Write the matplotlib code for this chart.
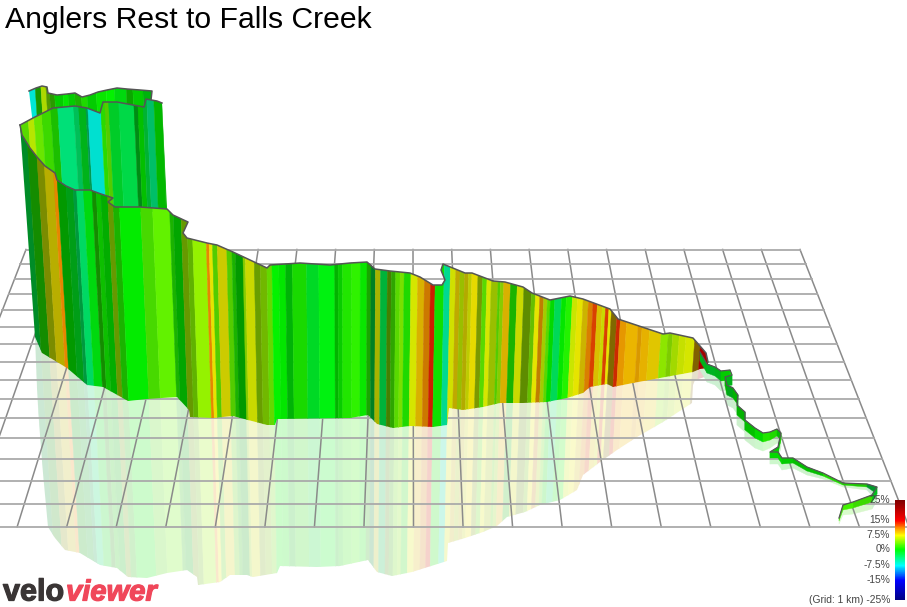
#
# Imports
#
import numpy as np
import matplotlib
matplotlib.use("Agg")
import matplotlib.pyplot as plt
import matplotlib.patheffects as pe
from matplotlib.collections import PolyCollection
from matplotlib.colors import LinearSegmentedColormap, Normalize
from matplotlib.patches import Polygon

#
# Data (in image pixels)
#
title = "Anglers Rest to Falls Creek"

# Grid
grid_rows = [249.5, 264, 279, 294, 310, 327, 344, 362, 380, 399, 418, 438, 459, 481, 503.5, 527]
grid_far_x = [800 - 38.7 * k for k in range(20, -1, -1)]
grid_near_x = [909 - 49.55 * k for k in range(20, -1, -1)]

# Front wall
front_top_x = [20, 22, 30, 37, 45, 55, 57, 66, 75, 90, 101, 113, 108, 115, 140, 167, 173, 188, 183, 187, 207, 217, 233, 250, 267,
               270, 300, 330, 350, 367, 375, 390, 410, 420, 433, 442, 445, 441, 443, 465, 472, 493, 505, 523, 532,
               550, 570, 583, 610, 618, 663, 670, 693, 700, 706, 708]
front_top_y = [125, 135, 148, 157, 166, 173, 180, 186, 190, 190, 194, 198, 202, 207, 207, 209, 215, 222, 233, 238, 243, 245, 252, 260, 268,
               265, 263, 265, 263, 262, 269, 271, 273, 277, 285, 285, 280, 270, 264, 273, 273, 281, 282, 287, 293,
               300, 296, 299, 309, 319, 334, 333, 338, 346, 353, 362]
front_bot_x = [35, 42, 67, 87, 103, 128, 147, 177, 189, 190, 213, 233, 267, 275, 277, 350, 368, 377, 393, 410, 433,
               447, 449, 463, 483, 500, 523, 547, 567, 583, 590, 607, 613, 633, 660, 693, 700, 708]
front_bot_y = [337, 353, 368, 385, 387, 401, 399, 397, 410, 417, 418, 416, 425, 425, 419, 418, 415, 424, 428, 426, 427,
               425, 408, 410, 407, 403, 403, 402, 398, 393, 387, 384, 387, 383, 378, 372, 369, 368]
mirror_bot_x = [35, 38, 43, 48, 55, 65, 80, 100, 117, 128, 147, 167, 187, 197, 198, 220, 230, 247, 253, 277, 280, 317,
                340, 368, 377, 392, 412, 447, 448, 465, 483, 497, 507, 525, 540, 560, 577, 583, 600, 617, 637, 663,
                692, 693, 695, 708]
mirror_bot_y = [337, 413, 473, 527, 538, 550, 553, 565, 568, 577, 578, 573, 570, 577, 585, 582, 575, 575, 577, 573, 566, 567,
                566, 560, 572, 576, 572, 561, 543, 538, 532, 526, 517, 512, 505, 500, 490, 475, 462, 450, 437, 422,
                403, 385, 380, 376]

# Front wall strips, left part
left_edges = [31.7, 38.3, 46.7, 53.3, 61.7, 65, 73.3, 80, 83.3, 90, 98.3, 102.3, 106.7, 113.3, 118.3, 124.3, 145,
              156.7, 173.3, 176.7, 184.3, 190, 195, 208.3, 211, 214.3, 219, 228.3, 233.3, 236.7, 245]
left_grade = [-2, 1, 6.5, 8, 11, 0, -1, -3, -3.5, -0.5, 1, 0.5, 0, 5, 1, 0, 2.5, 3, 1, 0, 5, 4, 4.5, 11, 7.5, 3, 7.5, 3, 1, 0]
left_shade = [.55, .55, .55, .72, .9, .6, .62, .6, .85, .85, .55, .75, .68, .6, .7, .92, .85, .95, .7, .65, .6, .7, .95, .9,
              .9, .8, .8, .8, .7, .6]

# Front wall strips, middle part
centre_edges = [245, 247.3, 256, 261.7, 268.3, 273.3, 280, 286.7, 293.3, 307.3, 319.3, 335, 338.3, 342.7, 351.7, 360, 366.7,
                370.7, 375, 380, 386.7, 390.7, 395, 399.3, 403.3, 410, 416.7, 423.3, 429.3, 434, 442.7, 448.7, 454, 458.3,
                462.7, 466.7, 470]
centre_grade = [5, 7, 5, 4.5, 3.5, 0, 0, -0.3, 0.8, -1.2, -0.5, 0, 0.3, 1, 1.5, 0.3, 1, -2, 7, -2.5, 4, 2, 3, 4, 1, 7, 9, 11,
                14, 0.5, -5, 7, 8.5, 6, 8, 7]
centre_shade = [.8, .85, .62, .72, .85, .95, .9, .7, .85, .85, .95, .7, .8, .9, .95, .9, .65, .5, .7, .7, .5, .65, .85, .88,
                .85, .9, .85, .8, .8, .88, .85, .88, .75, .75, .7, .8]

# Front wall strips, right part
right_edges = [470, 476, 480.7, 485, 489.3, 496, 498.3, 501.7, 508.3, 515, 521.7, 529.3, 533.3, 537.7, 541.7, 545.3, 548.3,
               552.7, 559.3, 564, 570, 575, 580.7, 586, 590.7, 595, 600, 603.3, 606.7, 609.3, 615, 618.7, 625, 636.7, 640.7,
               648.3, 660, 667.3, 671.7, 678.3, 685, 694, 700, 710]
right_grade = [8, 6, 3, 7, 6, 3, 5, 9, 1, 7, 5, 4, 7.5, 10.5, 6, 3, 0, -3, 0, 1, 6.5, 7.5, 8.5, 11, 13, 8.5, 7, 13, 7.5, 9,
               13.5, 10.5, 9.5, 10, 9.5, 8.5, 4.5, 4.5, 5.5, 6.5, 7, 9.5, 15]
right_shade = [.9, .6, .85, .9, .75, .8, .8, .85, .7, .85, .55, .75, .9, .75, .8, .85, .85, .85, .9, .95, .9, .9, .8, .85, .85,
               .85, .85, .85, .9, .5, .8, .9, .92, .85, .9, .88, .9, .8, .85, .88, .9, .5, .65]

# Middle wall
mid_top_x = [20, 33, 53, 75, 87, 100, 103, 117, 133, 144, 146, 157, 162, 167, 167, 30]
mid_top_y = [125, 118, 108, 106, 108, 113, 102, 102, 105, 107, 99, 101, 103, 209, 212, 212]
mid_edges = [20, 29, 35, 43, 52, 59, 75, 80, 87, 89, 102, 106, 110, 120, 135, 139, 144, 148, 155, 163, 168]
mid_grade = [3, 6, 3.5, 2, 1, -4, -3.5, -1, -4, -7, 1.5, 3, -1.5, -2.5, -1, 0, -2, -4, 0, 0]
mid_shade = [.85, .9, .9, .85, .75, .88, .75, .7, .6, .88, .85, .8, .8, .85, .55, .75, .7, .75, .72, .7]

# Back wall
back_top_x = [29, 36, 42, 47, 48, 57, 67, 75, 82, 90, 98, 107, 117, 127, 140, 152, 151, 146, 146, 33]
back_top_y = [91, 88, 86, 87, 93, 95, 94, 93, 97, 95, 92, 90, 88, 89, 90, 91, 100, 108, 125, 125]
back_edges = [29, 36, 41.7, 46.7, 50, 55, 63.3, 68.3, 75, 81.7, 87.3, 96.7, 106.7, 115, 126.7, 133.3, 143.3, 153.3]
back_grade = [-7, 1, 6, 4, 2, 0, 0, 0, 1, 1, 0, 0.3, 0, -0.5, 0.5, 0, -0.5]
back_shade = [.9, .6, .85, .6, .6, .8, .9, .8, .7, .85, .8, .9, .95, .85, .65, .8, .7]

# Low end of the route
tail_x = [700, 707, 715, 721, 730, 732, 725, 727, 733, 738, 737, 745, 745, 755, 763, 770, 777, 781, 780, 778, 770, 778, 782,
          793, 807, 823, 843, 867, 877, 872, 853, 843, 839]
tail_y = [352, 364, 367, 371, 370, 375, 377, 385, 388, 395, 405, 412, 420, 428, 433, 432, 429, 433, 437, 447, 452, 452, 458,
          458, 467, 473, 483, 484, 487, 495, 502, 505, 518]
tail_h = [9, 9, 9, 10, 10, 10, 9, 10, 10, 10, 10, 10, 10, 10, 9, 8, 7, 7, 7, 7, 6, 6, 6, 5, 4, 3, 2, 3, 7, 7, 6, 5, 3]
tail_grade = [-1, -1.5, -1, 0, 0, -1, 0, -1, 0, -1, 0, -1, 0, 0, 1, 1, 0, 1, 0, 0, 0, 0, 0, 0, 0, 1, 1, -2, -1, 2, 2, 2]
tail_shade = [.7, .7, .7, .8, .95, .7, .7, .65, .7, .65, .7, .65, .75, .85, .9, .85, .75, .85, .75, .8, .85, .85, .8, .75, .75, .85, .8, .6, .75, .85, .95, .9]

# Colour key
key_labels = ["25%", "15%", "7.5%", "0%", "-7.5%", "-15%", "(Grid: 1 km) -25%"]
key_values = [25, 15, 7.5, 0, -7.5, -15, -25]
key_y = [500, 520, 535, 549, 565, 580, 600]

#
# Gradient Colours
#
grade_cmap = LinearSegmentedColormap.from_list("grade", [
    (0.0, "#000080"), (0.2, "#0000ff"), (0.35, "#00ffff"), (0.5, "#00ff00"),
    (0.65, "#ffff00"), (0.72, "#ff9900"), (0.8, "#ff0000"), (1.0, "#800000")])
grade_norm = Normalize(-25, 25)

def strip_colours(grade, shade):
    rgb = grade_cmap(grade_norm(np.array(grade)))[:, :3]
    return rgb * np.array(shade)[:, None]

#
# Strips lean towards the middle of the picture, like the grid
#
def lean(x, y, yref):
    return x + (350 - x) * 0.00021 * (y - yref)

def strip_polys(edges, yref):
    y0, y1 = 60, 610
    polys = []
    for a, b in zip(edges[:-1], edges[1:]):
        polys.append([(lean(a, y0, yref), y0), (lean(b, y0, yref), y0),
                      (lean(b, y1, yref), y1), (lean(a, y1, yref), y1)])
    return polys

def draw_strips(ax, edges, yref, colours, clip_xy, zorder):
    clip = Polygon(clip_xy, closed=True, transform=ax.transData)
    coll = PolyCollection(strip_polys(edges, yref), facecolors=colours, edgecolors=colours,
                          linewidths=0.3, zorder=zorder)
    ax.add_collection(coll)
    coll.set_clip_path(clip)

#
# Create Plot
#
plt.rcParams["font.family"] = ["Liberation Sans", "DejaVu Sans"]
fig = plt.figure(figsize=(9.07, 6.07), dpi=100)
ax = fig.add_axes([0, 0, 1, 1])
ax.set_xlim(0, 907)
ax.set_ylim(607, 0)
ax.axis("off")

bands = [(left_edges, left_grade, left_shade, 310),
         (centre_edges, centre_grade, centre_shade, 350),
         (right_edges, right_grade, right_shade, 350)]

# Reflection
mirror_xy = list(zip(front_bot_x, front_bot_y)) + list(zip(mirror_bot_x, mirror_bot_y))[::-1]
for edges, grade, shade, yref in bands:
    draw_strips(ax, edges, yref, strip_colours(grade, shade) * 0.2 + 0.8, mirror_xy, 1)

tail_rgb = strip_colours(tail_grade, tail_shade)
for i in range(len(tail_x) - 1):
    a = tail_y[i] + tail_h[i]
    b = tail_y[i + 1] + tail_h[i + 1]
    ax.fill([tail_x[i], tail_x[i + 1], tail_x[i + 1], tail_x[i]],
            [a, b, b + tail_h[i + 1], a + tail_h[i]],
            color=tail_rgb[i] * 0.2 + 0.8, lw=0.3, zorder=1)

# Grid
for far, near in zip(grid_far_x, grid_near_x):
    ax.plot([far, near], [grid_rows[0], grid_rows[-1]], color="#8a8a8a", lw=1.1, zorder=2)
for y in grid_rows:
    f = (y - grid_rows[0]) / (grid_rows[-1] - grid_rows[0])
    left = grid_far_x[0] + (grid_near_x[0] - grid_far_x[0]) * f
    right = grid_far_x[-1] + (grid_near_x[-1] - grid_far_x[-1]) * f
    ax.plot([left, right], [y, y], color="#aaaaaa", lw=1.3, zorder=2)

# Back wall
back_xy = list(zip(back_top_x, back_top_y))
draw_strips(ax, back_edges, 100, strip_colours(back_grade, back_shade), back_xy, 3)
ax.plot(back_top_x[:-3], back_top_y[:-3], color="#555555", lw=1.1, zorder=3.5)

# Middle wall
mid_xy = list(zip(mid_top_x, mid_top_y))
draw_strips(ax, mid_edges, 130, strip_colours(mid_grade, mid_shade), mid_xy, 4)
ax.plot(mid_top_x[:-3], mid_top_y[:-3], color="#555555", lw=1.1, zorder=4.5)

# Front wall
front_xy = list(zip(front_top_x, front_top_y)) + list(zip(front_bot_x, front_bot_y))[::-1]
for edges, grade, shade, yref in bands:
    draw_strips(ax, edges, yref, strip_colours(grade, shade), front_xy, 5)
ax.plot(front_top_x, front_top_y, color="#555555", lw=1.1, zorder=6)

# Low end of the route
for i in range(len(tail_x) - 1):
    ax.fill([tail_x[i], tail_x[i + 1], tail_x[i + 1], tail_x[i]],
            [tail_y[i], tail_y[i + 1], tail_y[i + 1] + tail_h[i + 1], tail_y[i] + tail_h[i]],
            color=tail_rgb[i], lw=0.3, zorder=5)
ax.plot(tail_x, tail_y, color="#555555", lw=0.9, zorder=6)

# Colour key
yy = np.linspace(key_y[0], key_y[-1], 101)
vals = np.interp(yy, key_y, key_values)[:-1, None]
ax.pcolormesh([895, 905], yy, vals, cmap=grade_cmap, norm=grade_norm, zorder=7)
for label, y in zip(key_labels, key_y):
    ax.text(890, y, label, ha="right", va="center", fontsize=7.4, color="#444444", zorder=8)

# Text
ax.text(5, 28, title, fontsize=21.7, color="#000000", ha="left", va="baseline", zorder=8)
ax.text(3, 600.5, "velo", fontsize=22, fontweight="bold", color="#3a3535", ha="left", va="baseline", zorder=8,
        path_effects=[pe.withStroke(linewidth=0.9, foreground="#3a3535")])
ax.text(66, 600.5, "viewer", fontsize=21, fontweight="bold", style="italic", color="#f0475a", ha="left", va="baseline", zorder=8,
        path_effects=[pe.withStroke(linewidth=0.9, foreground="#f0475a")])

fig.savefig("out.png", dpi=100)
